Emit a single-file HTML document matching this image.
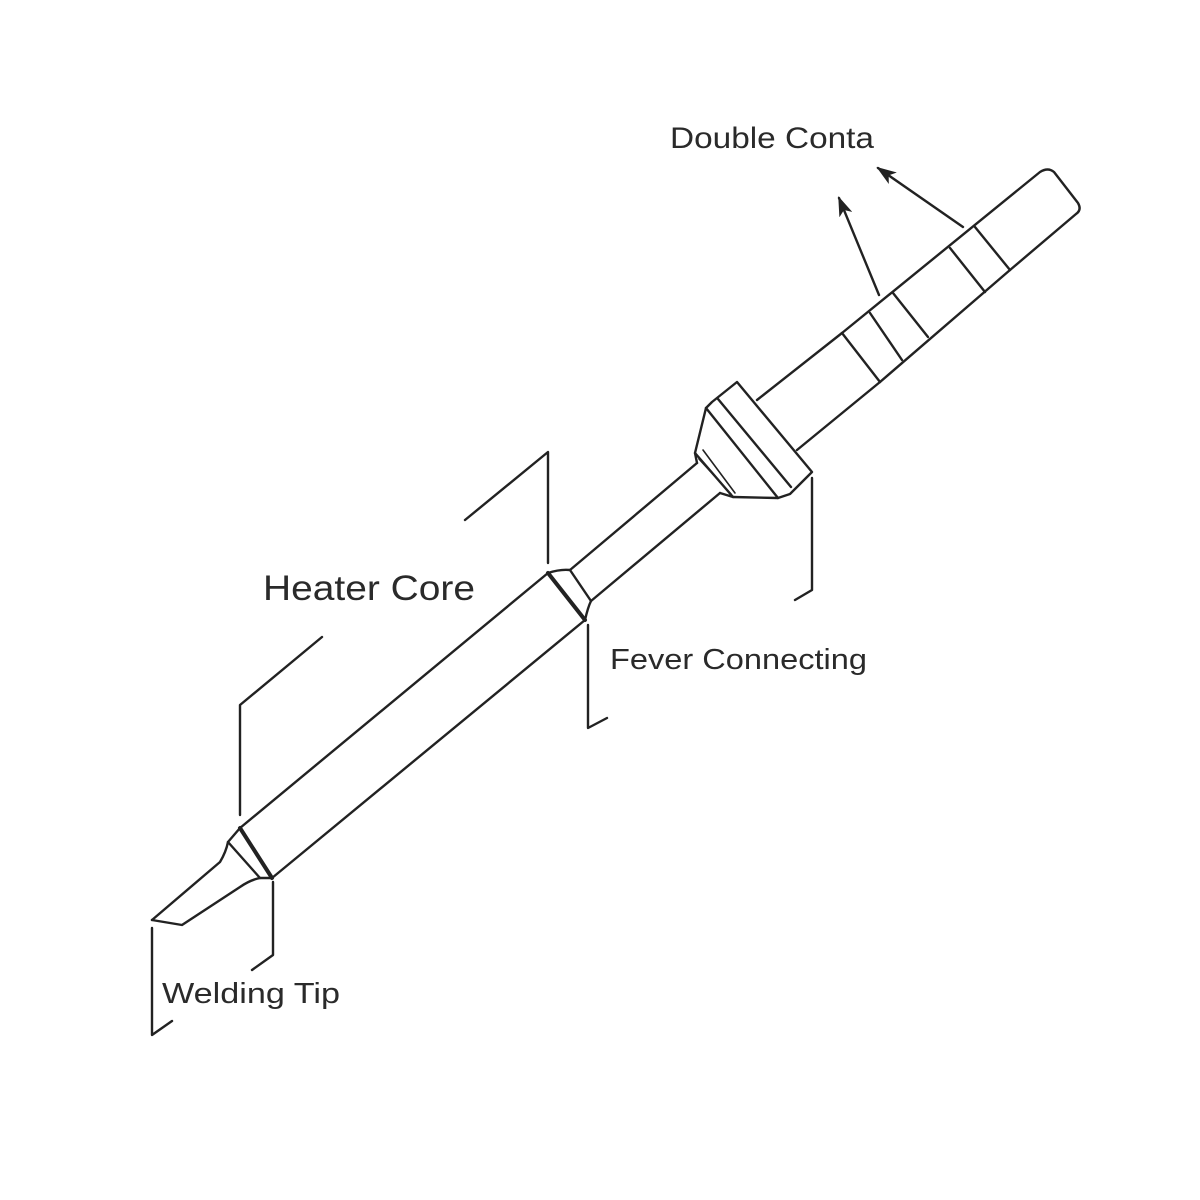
<!DOCTYPE html>
<html><head><meta charset="utf-8"><style>html,body{margin:0;padding:0;background:#fff;}svg{display:block}</style></head>
<body>
<svg width="1200" height="1200" viewBox="0 0 1200 1200" xmlns="http://www.w3.org/2000/svg">
<defs><marker id="ah" markerWidth="20" markerHeight="14" refX="18" refY="7" orient="auto" markerUnits="userSpaceOnUse" viewBox="0 0 20 14"><path d="M0,0 L20,7 L0,14 L5,7 Z" fill="#222"/></marker></defs>
<rect width="1200" height="1200" fill="#fff"/>
<g fill="none" stroke="#222" stroke-width="2.4" stroke-linejoin="round" stroke-linecap="round">
<path d="M152,920 L220,862 Q226,852 228,842 L240,828"/>
<path d="M152,920 L182,925 L240,887 Q250,880 260,878 L272,878"/>
<line x1="228" y1="842" x2="260" y2="878"/>
<line x1="240" y1="828" x2="272" y2="878" stroke-width="4"/>
<line x1="240" y1="828" x2="548" y2="573"/>
<line x1="272" y1="878" x2="585" y2="620"/>
<path d="M548,573 Q560,569 570,570"/>
<line x1="548" y1="573" x2="585" y2="620" stroke-width="4"/>
<line x1="570" y1="570" x2="591" y2="601"/>
<path d="M585,620 Q588,607 591,601"/>
<line x1="570" y1="570" x2="697" y2="463"/>
<line x1="591" y1="601" x2="720" y2="493"/>
<path d="M697,463 L695,453 L706,408 L712,402 L737,382 L812,472 L790,494 L778,498 L733,497 L720,493"/>
<line x1="695" y1="453" x2="733" y2="497"/>
<line x1="699" y1="459" x2="731" y2="494" stroke-width="1.6"/>
<line x1="703" y1="450" x2="735" y2="493" stroke-width="1.6"/>
<line x1="706" y1="408" x2="778" y2="498"/>
<line x1="718" y1="399" x2="791" y2="487"/>
<line x1="757" y1="400" x2="842" y2="333"/>
<line x1="797" y1="450" x2="880" y2="382"/>
<path d="M842,333 L1040,172 Q1048,167 1054,172 L1078,203 Q1082,210 1076,214 L1010,270"/>
<path d="M880,382 L1010,270"/>
<line x1="842" y1="333" x2="880" y2="382"/>
<line x1="870" y1="313" x2="902" y2="360"/>
<line x1="893" y1="293" x2="928" y2="337"/>
<line x1="950" y1="248" x2="985" y2="292"/>
<line x1="975" y1="227" x2="1010" y2="270"/>
<line x1="879" y1="295" x2="839" y2="198" marker-end="url(#ah)"/>
<line x1="963" y1="227" x2="878" y2="168" marker-end="url(#ah)"/>
<polyline points="152,928 152,1035 172,1021"/>
<polyline points="273,882 273,955 252,970"/>
<polyline points="322,637 240,705 240,815"/>
<polyline points="465,520 548,452 548,563"/>
<polyline points="588,625 588,728 607,718"/>
<polyline points="812,478 812,590 795,600"/>
</g>
<g font-family="'Liberation Sans', 'DejaVu Sans', sans-serif" fill="#2a2a2a">
<text x="670" y="148" font-size="30" textLength="204" lengthAdjust="spacingAndGlyphs">Double Conta</text>
<text x="263" y="600" font-size="35" textLength="212" lengthAdjust="spacingAndGlyphs">Heater Core</text>
<text x="610" y="669" font-size="29" textLength="257" lengthAdjust="spacingAndGlyphs">Fever Connecting</text>
<text x="162" y="1003" font-size="29" textLength="178" lengthAdjust="spacingAndGlyphs">Welding Tip</text>
</g>
</svg>
</body></html>
